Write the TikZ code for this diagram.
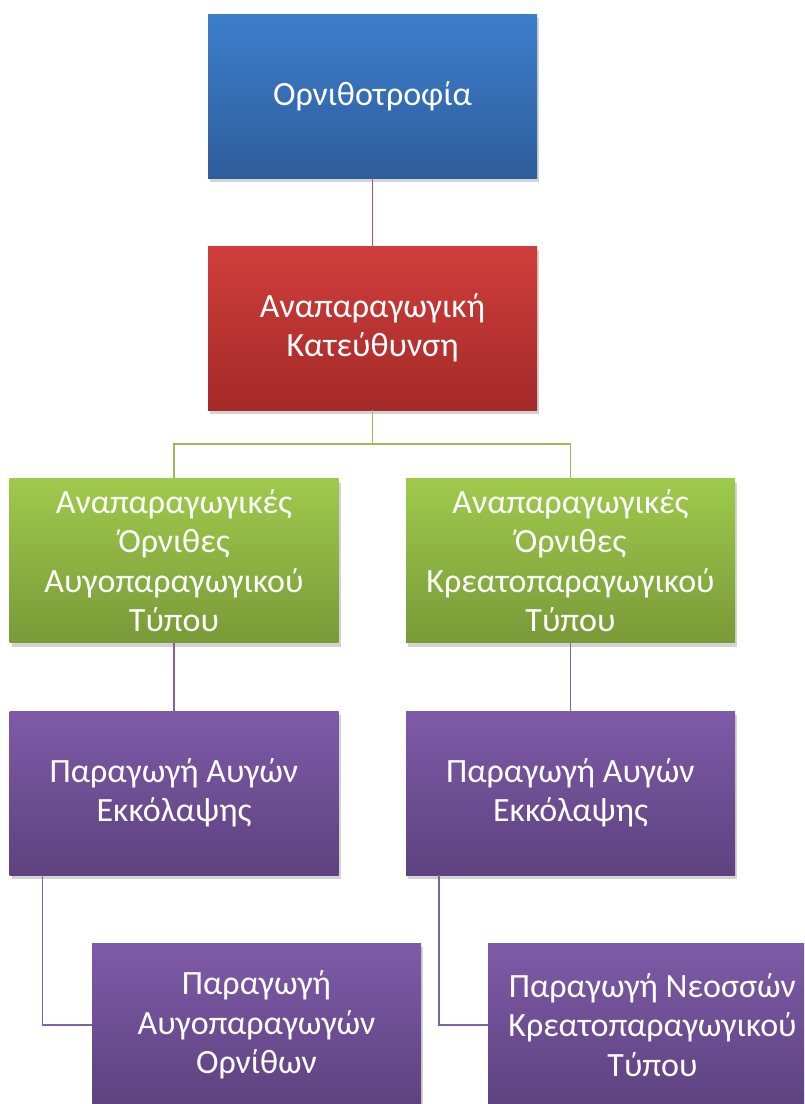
\documentclass[tikz,border=0pt]{standalone}
\usepackage{fontspec}
\setmainfont{Carlito}
\usetikzlibrary{shadows,calc}
\definecolor{bluetop}{HTML}{3D7ECB}
\definecolor{bluebot}{HTML}{2E5D9C}
\definecolor{redtop}{HTML}{D03E3B}
\definecolor{redbot}{HTML}{A32A28}
\definecolor{greentop}{HTML}{9FCA4C}
\definecolor{greenbot}{HTML}{789A38}
\definecolor{purtop}{HTML}{7F5AA8}
\definecolor{purbot}{HTML}{5D427F}
\definecolor{redline}{HTML}{C0504D}
\definecolor{greenline}{HTML}{9BBB59}
\definecolor{purline}{HTML}{8064A2}
\tikzset{
  box/.style={rectangle, minimum width=329pt, minimum height=164pt, inner sep=0pt,
    align=center, text=white, font=\fontsize{34}{39.5}\selectfont,
    drop shadow={opacity=0.35, shadow xshift=2pt, shadow yshift=-4pt}},
  bluebox/.style={box, top color=bluetop, bottom color=bluebot},
  redbox/.style={box, top color=redtop, bottom color=redbot},
  greenbox/.style={box, top color=greentop, bottom color=greenbot},
  purbox/.style={box, top color=purtop, bottom color=purbot},
  conn/.style={line width=1.6pt}
}
\begin{document}
\begin{tikzpicture}[x=1pt,y=-1pt]
\useasboundingbox (0,0) rectangle (804,1104);
\clip (0,0) rectangle (804,1104);
\node[bluebox] (top) at (372.5,96) {Ορνιθοτροφία};
\node[redbox] (red) at (372.5,328) {Αναπαραγωγική\\Κατεύθυνση};
\node[greenbox] (gl) at (174,560.5) {Αναπαραγωγικές\\Όρνιθες\\Αυγοπαραγωγικού\\Τύπου};
\node[greenbox] (gr) at (570.5,560.5) {Αναπαραγωγικές\\Όρνιθες\\Κρεατοπαραγωγικού\\Τύπου};
\node[purbox] (pl) at (174,793) {Παραγωγή Αυγών\\Εκκόλαψης};
\node[purbox] (pr) at (570.5,793) {Παραγωγή Αυγών\\Εκκόλαψης};
\node[purbox] (bl) at (256.5,1025) {Παραγωγή\\Αυγοπαραγωγών\\Ορνίθων};
\node[purbox] (br) at (652.5,1025) {Παραγωγή Νεοσσών\\Κρεατοπαραγωγικού\\Τύπου};
\draw[conn, redline] (top.south) -- (red.north);
\draw[conn, greenline] (red.south) -- ++(0,34) coordinate (split) -| (gl.north);
\draw[conn, greenline] (split) -| (gr.north);
\draw[conn, purline] (gl.south) -- (pl.north);
\draw[conn, purline] (gr.south) -- (pr.north);
\coordinate (el) at ($(pl.south west)+(33,0)$);
\coordinate (er) at ($(pr.south west)+(33,0)$);
\draw[conn, purline] (el) |- (bl.west);
\draw[conn, purline] (er) |- (br.west);
\end{tikzpicture}
\end{document}
